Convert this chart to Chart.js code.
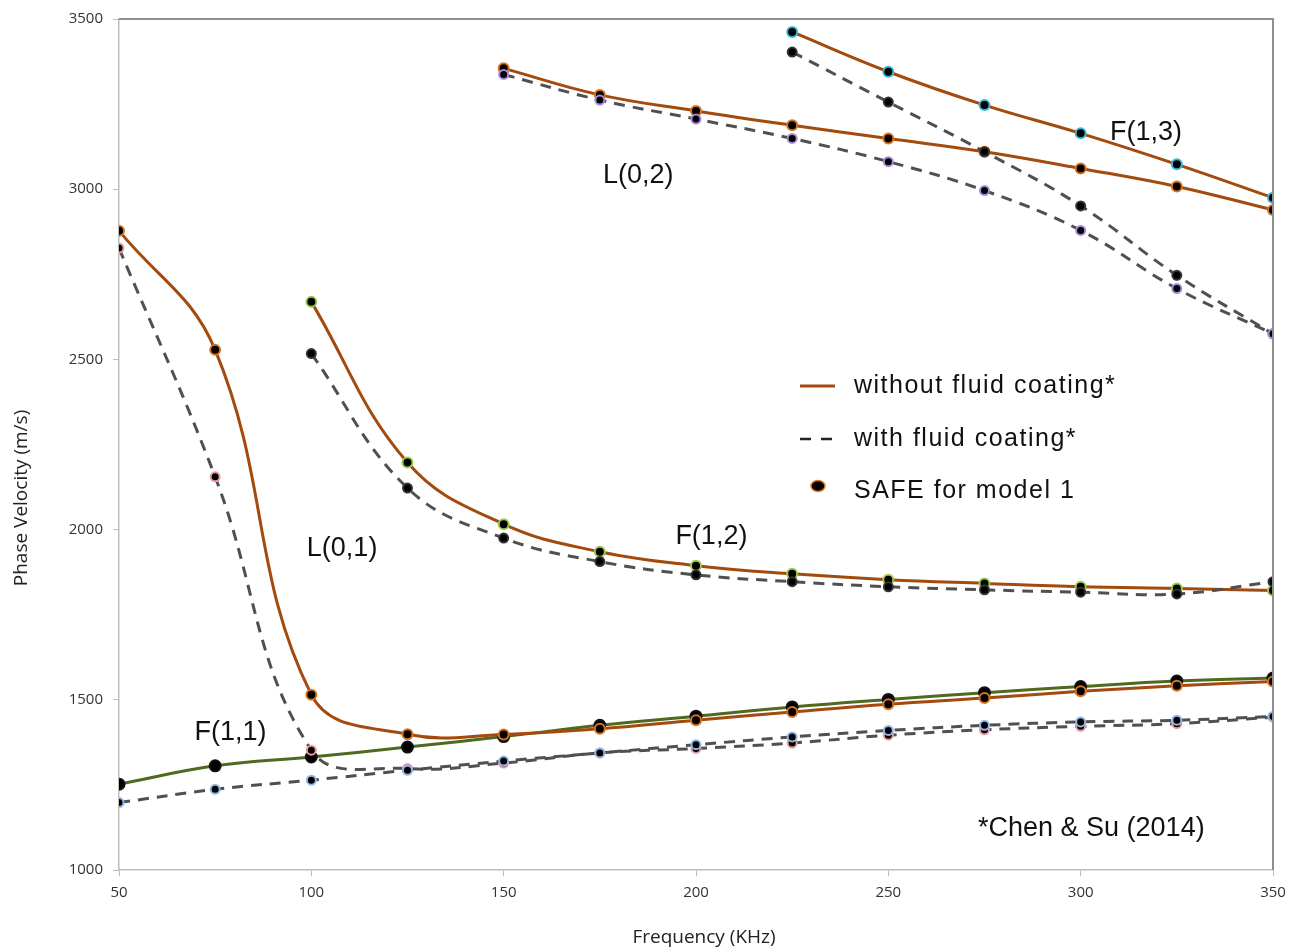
<!DOCTYPE html>
<html>
<head>
<meta charset="utf-8">
<script src="https://cdn.jsdelivr.net/npm/chart.js@4/dist/chart.umd.min.js"></script>
<style>
  html, body { margin: 0; padding: 0; background: #fff; }
  #wrap { width: 1298px; height: 951px; position: relative; }
</style>
</head>
<body>
<div id="wrap"><canvas id="c" width="1298" height="951"></canvas></div>
<script>
// ---- data ----
const freqAll = [50, 75, 100, 125, 150, 175, 200, 225, 250, 275, 300, 325, 350];
const L01_without = [2878, 2528, 1515, 1399, 1398, 1415, 1440, 1464, 1487, 1505, 1525, 1541, 1554];
const L01_with    = [2827, 2155, 1352, 1298, 1314, 1344, 1357, 1373, 1396, 1412, 1422, 1430, 1449];
const F11_without = [1252, 1306, 1332, 1361, 1392, 1425, 1452, 1479, 1501, 1521, 1539, 1555, 1564];
const F11_with    = [1198, 1237, 1264, 1293, 1320, 1344, 1368, 1391, 1410, 1425, 1435, 1440, 1451];

const freqF12 = [100, 125, 150, 175, 200, 225, 250, 275, 300, 325, 350];
const F12_without = [2669, 2197, 2016, 1935, 1894, 1870, 1853, 1842, 1832, 1827, 1821];
const F12_with    = [2517, 2122, 1975, 1906, 1867, 1847, 1832, 1823, 1816, 1811, 1847];

const freqL02 = [150, 175, 200, 225, 250, 275, 300, 325, 350];
const L02_without = [3355, 3277, 3230, 3188, 3149, 3110, 3061, 3008, 2939];
const L02_with    = [3337, 3262, 3206, 3149, 3081, 2996, 2879, 2708, 2575];

const freqF13 = [225, 250, 275, 300, 325, 350];
const F13_without = [3462, 3345, 3247, 3164, 3073, 2975];
const F13_with    = [3403, 3256, 3110, 2951, 2747, 2575];

const xTicks = [50, 100, 150, 200, 250, 300, 350];
const yTicks = [1000, 1500, 2000, 2500, 3000, 3500];

const legendLabels = ['without fluid coating*', 'with fluid coating*', 'SAFE for model 1'];
const modeLabels = [
  { text: 'L(0,2)', f: 185, v: 3040 },
  { text: 'F(1,3)', f: 317, v: 3165 },
  { text: 'L(0,1)', f: 108, v: 1945 },
  { text: 'F(1,2)', f: 204, v: 1980 },
  { text: 'F(1,1)', f: 79, v: 1405 }
];
const noteText = '*Chen & Su (2014)';

// ---- styling ----
const BROWN = '#A34A0E';
const GREEN = '#4F6A1F';
const DASH = '#505050';

function pts(xs, ys) { return xs.map((x, i) => ({ x: x, y: ys[i] })); }

function solid(data, color, ring, r) {
  return {
    data: data, borderColor: color, borderWidth: 3, tension: 0.4,
    pointRadius: r || 5, pointBackgroundColor: '#000', pointBorderColor: ring,
    pointBorderWidth: 2, fill: false
  };
}
function dashed(data, ring) {
  return {
    data: data, borderColor: DASH, borderWidth: 3, borderDash: [11, 8], tension: 0.4,
    pointRadius: 4.5, pointBackgroundColor: '#000', pointBorderColor: ring,
    pointBorderWidth: 2, fill: false
  };
}

const datasets = [
  dashed(pts(freqAll, F11_with), '#8fb8e8'),
  dashed(pts(freqAll, L01_with), '#e89aa0'),
  dashed(pts(freqF12, F12_with), '#333'),
  dashed(pts(freqL02, L02_with), '#a58ad8'),
  dashed(pts(freqF13, F13_with), '#333'),
  solid(pts(freqAll, L01_without), BROWN, '#D9731E'),
  solid(pts(freqAll, F11_without), GREEN, '#111', 5.5),
  solid(pts(freqF12, F12_without), BROWN, '#9ACD4A'),
  solid(pts(freqL02, L02_without), BROWN, '#D9731E'),
  solid(pts(freqF13, F13_without), BROWN, '#38B6DA')
];

const decor = {
  id: 'decor',
  afterDatasetsDraw(chart) {
    const ctx = chart.ctx, a = chart.chartArea;
    const xs = chart.scales.x, ys = chart.scales.y;
    ctx.save();
    // frame top & right
    ctx.strokeStyle = '#8f8f8f';
    ctx.lineWidth = 2;
    ctx.beginPath();
    ctx.moveTo(a.left, a.top); ctx.lineTo(a.right, a.top); ctx.lineTo(a.right, a.bottom);
    ctx.stroke();

    // mode labels
    ctx.fillStyle = '#111';
    ctx.font = '27px "Liberation Sans", Arial, sans-serif';
    ctx.textAlign = 'center';
    ctx.textBaseline = 'middle';
    modeLabels.forEach(m => ctx.fillText(m.text, xs.getPixelForValue(m.f), ys.getPixelForValue(m.v)));
    ctx.textAlign = 'left';
    ctx.fillText(noteText, 978, 829);

    // legend
    const lx = 800, tx = 854, rows = [386, 439, 491];
    ctx.lineWidth = 3;
    ctx.strokeStyle = BROWN;
    ctx.beginPath(); ctx.moveTo(lx, rows[0]); ctx.lineTo(lx + 35, rows[0]); ctx.stroke();
    ctx.strokeStyle = '#222';
    ctx.lineWidth = 2.5;
    ctx.beginPath(); ctx.moveTo(lx, rows[1]); ctx.lineTo(lx + 11, rows[1]);
    ctx.moveTo(lx + 21, rows[1]); ctx.lineTo(lx + 32, rows[1]); ctx.stroke();
    ctx.beginPath(); ctx.ellipse(lx + 18, rows[2] - 5, 7, 5.5, 0, 0, Math.PI * 2);
    ctx.fillStyle = '#000'; ctx.fill();
    ctx.strokeStyle = '#E07A20'; ctx.lineWidth = 1.5; ctx.stroke();
    ctx.fillStyle = '#111';
    ctx.font = '25px "Liberation Sans", Arial, sans-serif';
    if ('letterSpacing' in ctx) ctx.letterSpacing = '1.5px';
    legendLabels.forEach((t, i) => ctx.fillText(t, tx, rows[i]));
    if ('letterSpacing' in ctx) ctx.letterSpacing = '0px';

    // axis titles
    ctx.fillStyle = '#222';
    ctx.font = '19px "Open Sans", sans-serif';
    ctx.textAlign = 'center';
    ctx.fillText('Frequency (KHz)', 704, 938);
    ctx.translate(22, 498);
    ctx.rotate(-Math.PI / 2);
    ctx.fillText('Phase Velocity (m/s)', 0, 0);
    ctx.restore();
  }
};

const tickFont = { family: '"Open Sans", sans-serif', size: 15 };

new Chart(document.getElementById('c'), {
  type: 'line',
  data: { datasets: datasets },
  plugins: [decor],
  options: {
    responsive: false,
    animation: false,
    layout: { padding: { top: 17, right: 25, left: 0, bottom: 0 } },
    plugins: { legend: { display: false }, tooltip: { enabled: false } },
    scales: {
      x: {
        type: 'linear', min: 50, max: 350,
        afterFit: s => { s.height = 81; },
        afterBuildTicks: s => { s.ticks = xTicks.map(v => ({ value: v })); },
        ticks: { color: '#333', font: tickFont, padding: 8, maxRotation: 0, callback: v => String(v) },
        grid: { drawOnChartArea: false, drawTicks: true, tickLength: 6, color: '#bdbdbd' },
        border: { color: '#bdbdbd', width: 1.5 }
      },
      y: {
        type: 'linear', min: 1000, max: 3500,
        afterFit: s => { s.width = 119; },
        afterBuildTicks: s => { s.ticks = yTicks.map(v => ({ value: v })); },
        ticks: { color: '#333', font: tickFont, padding: 10, callback: v => String(v) },
        grid: { drawOnChartArea: false, drawTicks: true, tickLength: 6, color: '#bdbdbd' },
        border: { color: '#bdbdbd', width: 1.5 }
      }
    }
  }
});
</script>
</body>
</html>
